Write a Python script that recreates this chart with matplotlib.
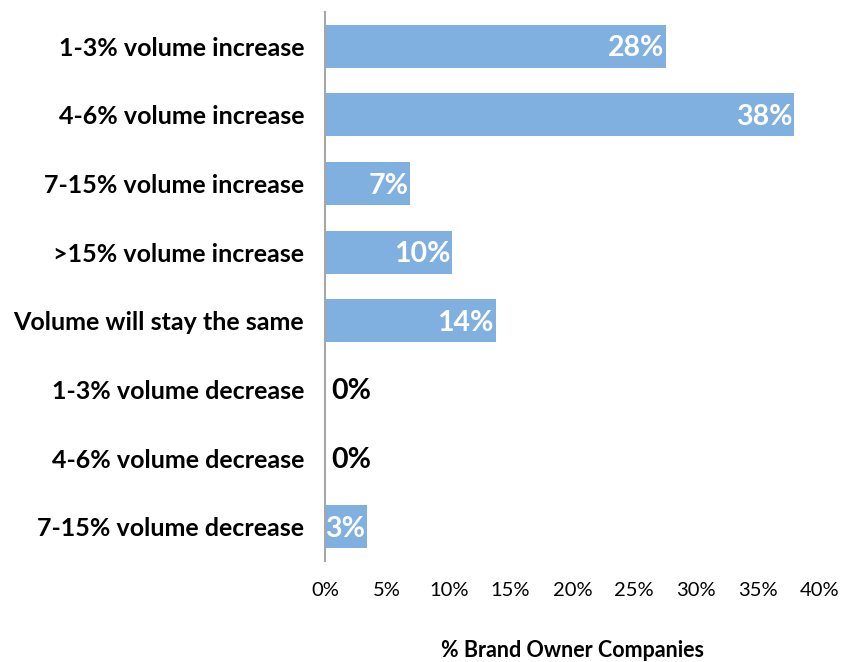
import matplotlib
matplotlib.use("Agg")
import matplotlib.pyplot as plt
from matplotlib.ticker import FuncFormatter

categories = [
    "1-3% volume increase",
    "4-6% volume increase",
    "7-15% volume increase",
    ">15% volume increase",
    "Volume will stay the same",
    "1-3% volume decrease",
    "4-6% volume decrease",
    "7-15% volume decrease",
]
values = [27.6, 37.9, 6.9, 10.3, 13.8, 0.0, 0.0, 3.4]
x_ticks = [0, 5, 10, 15, 20, 25, 30, 35, 40]
x_label = "% Brand Owner Companies"

plt.rcParams["font.family"] = ["Lato", "DejaVu Sans"]

fig = plt.figure(figsize=(8.55, 6.62), dpi=100)
ax = fig.add_axes([0.380, 0.1526, 0.579, 0.8294])

y = list(range(len(categories)))
ax.barh(y, values, height=0.63, color="#7FB0E0", zorder=2)
ax.set_ylim(len(categories) - 0.5, -0.5)
ax.set_xlim(0, 40)

ax.set_yticks(y)
ax.set_yticklabels(categories, fontsize=18, fontweight="bold")
ax.set_xticks(x_ticks)
ax.xaxis.set_major_formatter(FuncFormatter(lambda v, p: f"{v:.0f}%"))
ax.tick_params(axis="x", length=0, pad=15, labelsize=14.5)
ax.tick_params(axis="y", length=0, pad=15)

for side in ("top", "right", "bottom"):
    ax.spines[side].set_visible(False)
ax.spines["left"].set_color("#A6A6A6")
ax.spines["left"].set_linewidth(1.5)

for yi, v in zip(y, values):
    txt = f"{v:.0f}%"
    if v > 0:
        ax.text(v - 0.15, yi + 0.03, txt, ha="right", va="center",
                color="white", fontsize=20.5, fontweight="bold", zorder=3)
    else:
        ax.text(0.5, yi + 0.03, txt, ha="left", va="center",
                color="black", fontsize=20.5, fontweight="bold", zorder=3)

# axis title centred under the plotting area, near the bottom edge
x_mid = (ax.get_position().x0 + ax.get_position().x1) / 2
fig.text(x_mid, 0.007, x_label, ha="center", va="baseline",
         fontsize=15.5, fontweight="bold")

fig.savefig("out.png", dpi=100)
